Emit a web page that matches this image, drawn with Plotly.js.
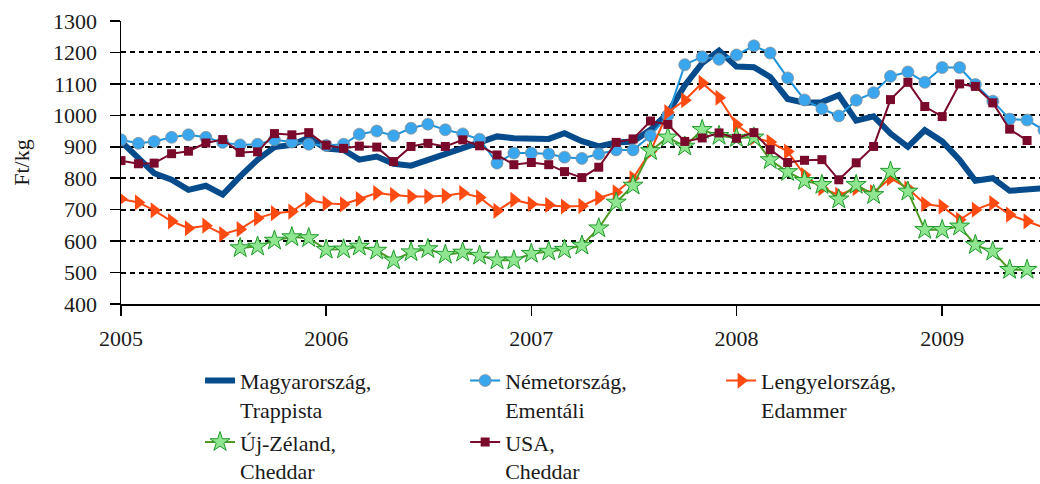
<!DOCTYPE html>
<html>
<head>
<meta charset="utf-8">
<script src="https://cdn.plot.ly/plotly-3.0.1.min.js"></script>
<style>
  html, body { margin: 0; padding: 0; background: #ffffff; }
  #chart { width: 1040px; height: 484px; }
</style>
</head>
<body>
<div id="chart"></div>
<script>
// Months (first day of each month), Jan 2005 – Jul 2009
const months = [
  '2005-01-01','2005-02-01','2005-03-01','2005-04-01','2005-05-01','2005-06-01','2005-07-01','2005-08-01','2005-09-01','2005-10-01','2005-11-01','2005-12-01',
  '2006-01-01','2006-02-01','2006-03-01','2006-04-01','2006-05-01','2006-06-01','2006-07-01','2006-08-01','2006-09-01','2006-10-01','2006-11-01','2006-12-01',
  '2007-01-01','2007-02-01','2007-03-01','2007-04-01','2007-05-01','2007-06-01','2007-07-01','2007-08-01','2007-09-01','2007-10-01','2007-11-01','2007-12-01',
  '2008-01-01','2008-02-01','2008-03-01','2008-04-01','2008-05-01','2008-06-01','2008-07-01','2008-08-01','2008-09-01','2008-10-01','2008-11-01','2008-12-01',
  '2009-01-01','2009-02-01','2009-03-01','2009-04-01','2009-05-01','2009-06-01','2009-07-01'
];

// Ft/kg
const magyarTrappista = [
  917,867,816,795,763,776,748,806,859,899,906,928,
  894,890,859,869,846,840,857,874,896,914,933,927,
  924,925,943,918,901,914,917,954,1007,1095,1166,1206,
  1155,1153,1122,1052,1040,1042,1064,983,997,942,900,953,
  917,858,792,800,760,765,768
];
const nemetEmentali = [
  922,911,917,930,938,930,914,906,908,922,915,908,
  904,908,940,950,935,959,972,954,941,924,848,880,
  880,877,867,863,877,890,890,935,1000,1161,1186,1178,
  1192,1221,1198,1119,1049,1021,998,1048,1072,1124,1138,1105,
  1152,1152,1098,1045,988,985,953
];
const lengyelEdammer = [
  734,723,698,663,641,649,622,638,673,689,694,731,
  720,717,734,753,747,742,742,744,753,739,696,731,
  718,715,710,712,737,755,800,885,1010,1048,1103,1056,
  970,929,915,885,810,768,747,768,755,800,768,718,
  710,668,700,721,684,663,643
];
const ujzelandCheddar = [
  null,null,null,null,null,null,null,578,583,602,613,610,
  573,574,583,570,539,565,575,557,564,554,539,539,
  560,567,573,586,641,723,777,887,930,901,954,935,
  928,930,858,820,792,779,733,779,747,821,758,636,
  636,647,588,567,509,509,null
];
const usaCheddar = [
  856,846,848,878,886,912,923,882,884,942,938,945,
  905,895,902,899,853,901,911,901,922,903,874,843,
  850,843,821,802,835,914,925,982,971,917,928,944,
  927,945,891,850,857,859,795,849,901,1050,1105,1028,
  996,1100,1092,1040,956,920,null
];

const seriesNames = [
  'Magyarország,<br>Trappista',
  'Németország,<br>Ementáli',
  'Lengyelország,<br>Edammer',
  'Új-Zéland,<br>Cheddar',
  'USA,<br>Cheddar'
];
const yearTicks = ['2005-01-01','2006-01-01','2007-01-01','2008-01-01','2009-01-01'];
const yearLabels = ['2005','2006','2007','2008','2009'];
const yTitle = 'Ft/kg';

const FONT = 'Liberation Serif, Tinos, Noto Serif, DejaVu Serif, Times New Roman, Times, Georgia, serif';
const TXT = '#1a1a1a';

const traces = [
  {
    x: months, y: magyarTrappista, name: seriesNames[0], type: 'scatter', mode: 'lines',
    legend: 'legend',
    line: { color: '#064B8C', width: 6 }
  },
  {
    x: months, y: nemetEmentali, name: seriesNames[1], type: 'scatter', mode: 'lines+markers',
    legend: 'legend2',
    line: { color: '#1C93DA', width: 2 },
    marker: { symbol: 'circle', size: 12, color: '#3AA6EE', line: { color: 'rgba(140,140,140,0.7)', width: 1 } }
  },
  {
    x: months, y: lengyelEdammer, name: seriesNames[2], type: 'scatter', mode: 'lines+markers',
    legend: 'legend3',
    line: { color: '#FF4A12', width: 2 },
    marker: { symbol: 'triangle-right', size: 14, color: '#FF4A12', line: { width: 0 } }
  },
  {
    x: months, y: ujzelandCheddar, name: seriesNames[3], type: 'scatter', mode: 'lines+markers',
    legend: 'legend4',
    line: { color: '#4F9A22', width: 2 },
    marker: { symbol: 'star', size: 15, color: '#90E690', line: { color: '#1E9A2A', width: 1 } },
    connectgaps: false
  },
  {
    x: months, y: usaCheddar, name: seriesNames[4], type: 'scatter', mode: 'lines+markers',
    legend: 'legend5',
    line: { color: '#7A0A2C', width: 2 },
    marker: { symbol: 'square', size: 9, color: '#7A0A2C', line: { width: 0 } }
  }
];

function legendAt(xp, yp) {
  return {
    orientation: 'v',
    x: xp, xanchor: 'left',
    y: yp, yanchor: 'top',
    valign: 'top',
    itemwidth: 30,
    font: { family: FONT, size: 22, color: TXT },
    bgcolor: 'rgba(0,0,0,0)',
    borderwidth: 0
  };
}

const ROW1 = -0.197, ROW2 = -0.414;
const COL1 = 0.086, COL2 = 0.3745, COL3 = 0.653;

const layout = {
  width: 1040, height: 484,
  margin: { l: 121, r: 0, t: 21, b: 180, autoexpand: false },
  paper_bgcolor: '#ffffff', plot_bgcolor: '#ffffff',
  font: { family: FONT, size: 22, color: TXT },
  showlegend: true,
  legend: legendAt(COL1, ROW1),
  legend2: legendAt(COL2, ROW1),
  legend3: legendAt(COL3, ROW1),
  legend4: legendAt(COL1, ROW2),
  legend5: legendAt(COL2, ROW2),
  xaxis: {
    type: 'date',
    range: ['2005-01-01', '2009-06-24'],
    tickmode: 'array', tickvals: yearTicks, ticktext: yearLabels,
    ticks: 'outside', ticklen: 10, tickwidth: 1.5, tickcolor: '#000',
    ticklabelstandoff: 4,
    showline: true, linecolor: '#000', linewidth: 1.5,
    showgrid: false, zeroline: false,
    tickfont: { family: FONT, size: 22, color: TXT }
  },
  yaxis: {
    range: [400, 1300],
    tickmode: 'linear', tick0: 400, dtick: 100,
    ticks: 'outside', ticklen: 10, tickwidth: 1.5, tickcolor: '#000',
    ticklabelstandoff: 8,
    showline: true, linecolor: '#000', linewidth: 1.5,
    showgrid: true, gridcolor: '#000', gridwidth: 2, griddash: '5px,4px',
    zeroline: false,
    tickfont: { family: FONT, size: 22, color: TXT },
    title: { text: yTitle, font: { family: FONT, size: 22, color: TXT }, standoff: 17 }
  }
};

Plotly.newPlot('chart', traces, layout, { displayModeBar: false, staticPlot: true });
</script>
</body>
</html>
